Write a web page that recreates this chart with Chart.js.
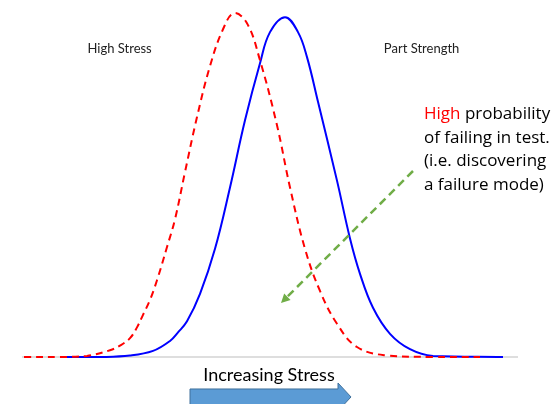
<!DOCTYPE html>
<html>
<head>
<meta charset="utf-8">
<script src="https://cdn.jsdelivr.net/npm/chart.js@4"></script>
<style>
  html, body { margin: 0; padding: 0; background: #fff; }
</style>
</head>
<body>
<canvas id="chart" width="552" height="404"></canvas>
<script>
// stress vs. strength interference picture
// x = stress (arbitrary units), y = relative density (peak ~100)

var stressX = [0.5, 9.5, 16.25, 22, 24.5, 27, 28.75, 30.25, 32, 33.75, 36.25, 38.25, 40.75, 43.75, 47, 50.25, 53, 56.25, 59.5, 63.75, 67, 70.75, 74.5, 78.75, 83.75, 91.25, 102.75, 114.5];
var stressY = [0, 0, 0.3, 1.9, 3.2, 5.3, 8.3, 11.8, 16.0, 21.5, 30.8, 38.6, 51.8, 67.2, 81.5, 91.8, 96.3, 93.5, 83.1, 64.9, 47.5, 30.3, 18.5, 9.3, 2.8, 0.4, 0, 0];

var strengthX = [10, 19.5, 27, 32.75, 37, 39, 41.25, 44.5, 48.25, 52, 55.75, 59.5, 62, 65.75, 69, 71.25, 74, 78.75, 82, 84.5, 87.75, 92, 97, 102.75, 120.25];
var strengthY = [0, 0, 0.4, 1.7, 4.5, 6.9, 10.0, 17.7, 30.3, 47.5, 66.3, 82.3, 91.0, 95.2, 91.0, 84.0, 71.5, 49.4, 33.2, 23.3, 13.8, 6.5, 2.2, 0.3, 0];

var curveLabels = ["High Stress", "Part Strength"];
var curveLabelX = [24.4, 99.9];
var noteLines = ["High probability", "of failing in test.", "(i.e. discovering", "a failure mode)"];
var axisTitle = "Increasing Stress";

function toPoints(xs, ys) {
    var pts = [];
    for (var i = 0; i < xs.length; i++) pts.push({x: xs[i], y: ys[i]});
    return pts;
}

var FONT = "Lato, 'Open Sans', sans-serif";
var NOTE_FONT = "'Open Sans', Lato, sans-serif";

var extras = {
    id: 'extras',
    beforeDatasetsDraw: function(chart) {
        var ctx = chart.ctx, a = chart.chartArea;
        var y0 = chart.scales.y.getPixelForValue(0);
        ctx.save();
        ctx.strokeStyle = '#dedede';
        ctx.lineWidth = 2;
        ctx.beginPath();
        ctx.moveTo(a.left, y0);
        ctx.lineTo(a.right, y0);
        ctx.stroke();
        ctx.restore();
    },
    afterDatasetsDraw: function(chart) {
        var ctx = chart.ctx;
        var sx = chart.scales.x, sy = chart.scales.y;
        var px = function(v) { return sx.getPixelForValue(v); };
        var py = function(v) { return sy.getPixelForValue(v); };
        ctx.save();

        // curve labels
        ctx.font = "13px " + FONT;
        ctx.fillStyle = '#222';
        ctx.textAlign = 'center';
        ctx.textBaseline = 'alphabetic';
        for (var i = 0; i < curveLabels.length; i++) {
            ctx.fillText(curveLabels[i], px(curveLabelX[i]), py(85.2));
        }

        // note block on the right
        ctx.font = "17px " + NOTE_FONT;
        ctx.textAlign = 'left';
        var nx = px(100.5), ny = py(66.7);
        for (var j = 0; j < noteLines.length; j++) {
            var line = noteLines[j], yy = ny + j * 23.7;
            if (j === 0) {
                ctx.fillStyle = '#ff0000';
                ctx.fillText("High", nx, yy);
                var w = ctx.measureText("High ").width;
                ctx.fillStyle = '#000';
                ctx.fillText(line.substring(5), nx + w, yy);
            } else {
                ctx.fillStyle = '#000';
                ctx.fillText(line, nx, yy);
            }
        }

        // green dashed arrow
        var gx0 = px(97.75), gy0 = py(52.1), gx1 = px(64.75), gy1 = py(15.1);
        var ang = Math.atan2(gy1 - gy0, gx1 - gx0);
        ctx.strokeStyle = '#70ad47';
        ctx.fillStyle = '#70ad47';
        ctx.lineWidth = 2.5;
        ctx.setLineDash([8, 5]);
        ctx.beginPath();
        ctx.moveTo(gx0, gy0);
        ctx.lineTo(gx1 - 5 * Math.cos(ang), gy1 - 5 * Math.sin(ang));
        ctx.stroke();
        ctx.setLineDash([]);
        ctx.beginPath();
        ctx.moveTo(gx1, gy1);
        ctx.lineTo(gx1 - 9 * Math.cos(ang) + 4.5 * Math.sin(ang), gy1 - 9 * Math.sin(ang) - 4.5 * Math.cos(ang));
        ctx.lineTo(gx1 - 9 * Math.cos(ang) - 4.5 * Math.sin(ang), gy1 - 9 * Math.sin(ang) + 4.5 * Math.cos(ang));
        ctx.closePath();
        ctx.fill();

        // axis title + block arrow
        ctx.font = "18px " + FONT;
        ctx.fillStyle = '#000';
        ctx.textAlign = 'center';
        ctx.fillText(axisTitle, px(61.75), py(-6.7));

        var ax0 = px(42), ax1 = px(79), tip = px(82.25), ac = py(-11.2);
        ctx.fillStyle = '#5b9bd5';
        ctx.strokeStyle = '#41719c';
        ctx.lineWidth = 1;
        ctx.beginPath();
        ctx.moveTo(ax0, ac - 8);
        ctx.lineTo(ax1, ac - 8);
        ctx.lineTo(ax1, ac - 14);
        ctx.lineTo(tip, ac);
        ctx.lineTo(ax1, ac + 14);
        ctx.lineTo(ax1, ac + 8);
        ctx.lineTo(ax0, ac + 8);
        ctx.closePath();
        ctx.fill();
        ctx.stroke();

        ctx.restore();
    }
};

var ctx = document.getElementById("chart").getContext("2d");
var chart = new Chart(ctx, {
    type: 'line',
    data: {
        datasets: [
            {
                label: "High Stress",
                data: toPoints(stressX, stressY),
                borderColor: '#ff0000',
                borderWidth: 2,
                borderDash: [7, 5],
                pointRadius: 0,
                tension: 0.4,
                clip: false
            },
            {
                label: "Part Strength",
                data: toPoints(strengthX, strengthY),
                borderColor: '#0000ff',
                borderWidth: 2,
                pointRadius: 0,
                tension: 0.4,
                clip: false
            }
        ]
    },
    options: {
        responsive: false,
        animation: false,
        devicePixelRatio: 1,
        layout: { padding: { left: 22, right: 34, top: 0, bottom: 47 } },
        scales: {
            x: { type: 'linear', min: 0, max: 124, display: false },
            y: { min: 0, max: 100, display: false }
        },
        plugins: {
            legend: { display: false },
            tooltip: { enabled: false }
        }
    },
    plugins: [extras]
});
</script>
</body>
</html>
